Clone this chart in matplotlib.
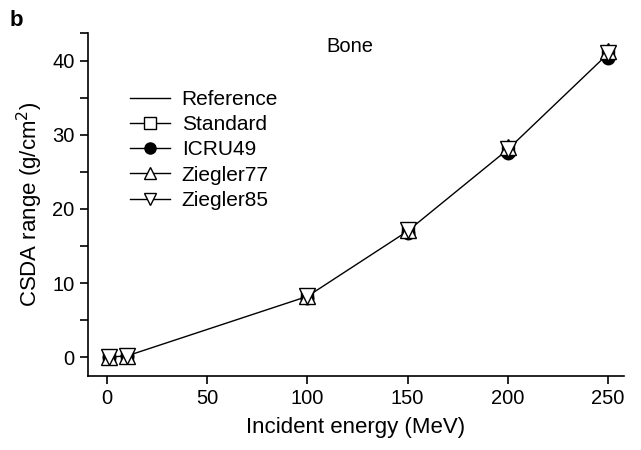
import numpy as np
import matplotlib
matplotlib.use('Agg')
import matplotlib.pyplot as plt
from matplotlib.ticker import FixedLocator
from matplotlib.lines import Line2D

plt.rcParams['font.family'] = ['Liberation Sans', 'DejaVu Sans']

# data
energy = [1, 10, 100, 150, 200, 250]
reference = [0.004, 0.18, 8.2, 17.0, 28.0, 40.9]
standard = [0.004, 0.18, 8.2, 17.0, 28.0, 40.9]
icru49 = [0.004, 0.17, 8.0, 16.8, 27.6, 40.3]
ziegler77 = [0.005, 0.19, 8.3, 17.2, 28.3, 41.3]
ziegler85 = [0.004, 0.18, 8.2, 17.1, 28.1, 41.0]

fig = plt.figure(figsize=(6.41, 4.5), dpi=100)
ax = fig.add_axes([0.137, 0.164, 0.836, 0.762])

mk = dict(ls='none', mec='k', mew=1.0)
ax.plot(energy, reference, '-', color='k', lw=1.0)
ax.plot(energy, standard, marker='s', ms=9, mfc='white', **mk)
ax.plot(energy, icru49, marker='o', ms=9, mfc='k', **mk)
ax.plot(energy, ziegler77, marker='^', ms=11, mfc='white', **mk)
ax.plot(energy, ziegler85, marker='v', ms=11, mfc='white', **mk)

handles = [
    Line2D([], [], color='k', lw=1.0),
    Line2D([], [], color='k', lw=1.0, marker='s', ms=8, mfc='white', mec='k'),
    Line2D([], [], color='k', lw=1.0, marker='o', ms=8, mfc='k', mec='k'),
    Line2D([], [], color='k', lw=1.0, marker='^', ms=9, mfc='white', mec='k'),
    Line2D([], [], color='k', lw=1.0, marker='v', ms=9, mfc='white', mec='k'),
]
labels = ['Reference', 'Standard', 'ICRU49', 'Ziegler77', 'Ziegler85']

ax.set_xlim(-9.7, 258)
ax.set_ylim(-2.57, 43.7)
ax.set_xticks([0, 50, 100, 150, 200, 250])
ax.set_yticks([0, 10, 20, 30, 40])
ax.yaxis.set_minor_locator(FixedLocator([5, 15, 25, 35, 43.7]))

for s in ['top', 'right']:
    ax.spines[s].set_visible(False)
for s in ['left', 'bottom']:
    ax.spines[s].set_linewidth(1.2)
ax.tick_params(which='both', direction='out', length=6, width=1.2, labelsize=14.5)

ax.set_xlabel('Incident energy (MeV)', fontsize=16, labelpad=6)
ax.set_ylabel('CSDA range (g/cm$^2$)', fontsize=16, labelpad=5)

ax.text(121, 41.9, 'Bone', fontsize=14.5, ha='center', va='center')
fig.text(0.015, 0.955, 'b', fontsize=16, fontweight='bold', ha='left', va='center')

ax.legend(handles, labels, loc='upper left', bbox_to_anchor=(0.078, 0.835), frameon=False,
          fontsize=15, handlelength=1.95, handletextpad=0.55, labelspacing=0.3,
          borderpad=0, borderaxespad=0)

fig.savefig('out.png', dpi=100)
